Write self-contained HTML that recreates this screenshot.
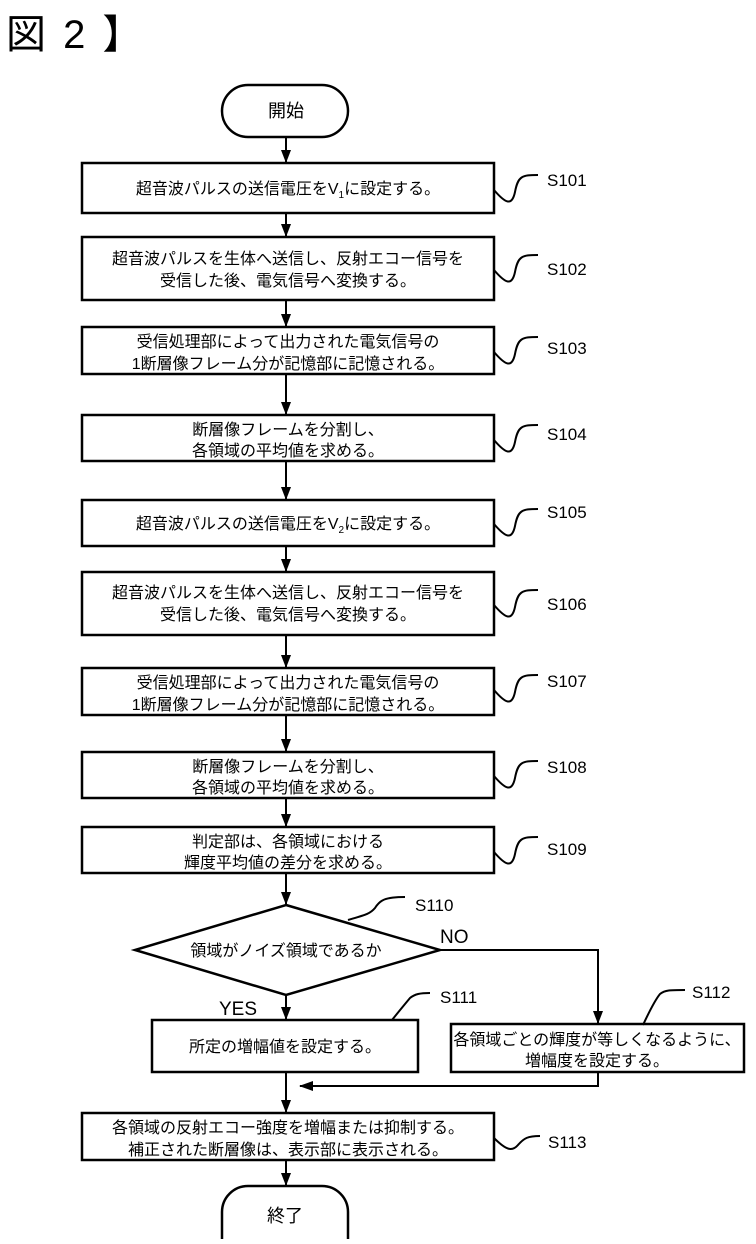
<!DOCTYPE html>
<html><head><meta charset="utf-8"><style>
body{margin:0;background:#fff}
svg text{font-family:"Liberation Sans","Noto Sans CJK JP",sans-serif;fill:#000}
</style></head><body>
<svg width="756" height="1239" viewBox="0 0 756 1239" xmlns="http://www.w3.org/2000/svg">
<defs><marker id="a" markerWidth="13" markerHeight="10" refX="12" refY="5" orient="auto" markerUnits="userSpaceOnUse"><path d="M0,0 L13,5 L0,10 Z" fill="#000"/></marker>
<marker id="l" markerWidth="14" markerHeight="10" refX="13" refY="5" orient="auto" markerUnits="userSpaceOnUse"><path d="M0,0 L14,5 L0,10 Z" fill="#000"/></marker></defs>
<text x="6" y="48" font-size="40" letter-spacing="3">図 2 】</text>
<g fill="none" stroke="#000" stroke-width="2.5">
<rect x="222" y="85" width="126" height="52" rx="26"/>
<rect x="82" y="163" width="412" height="50"/>
<rect x="82" y="237" width="412" height="63"/>
<rect x="82" y="327" width="412" height="47"/>
<rect x="82" y="415" width="412" height="46"/>
<rect x="82" y="500" width="412" height="46"/>
<rect x="82" y="572" width="412" height="63"/>
<rect x="82" y="668" width="412" height="47"/>
<rect x="82" y="752" width="412" height="46"/>
<rect x="82" y="827" width="412" height="46"/>
<path d="M286,905 L440,950 L286,995 L135,950 Z"/>
<rect x="152" y="1020" width="266" height="52"/>
<rect x="451" y="1024" width="293" height="48"/>
<rect x="82" y="1113" width="412" height="47"/>
<path d="M222,1239 L222,1212 A26,26 0 0 1 248,1186 L322,1186 A26,26 0 0 1 348,1212 L348,1239"/>
</g>
<g stroke="#000" stroke-width="2" fill="none">
<line x1="286" y1="137" x2="286" y2="162" marker-end="url(#a)"/>
<line x1="286" y1="213" x2="286" y2="236" marker-end="url(#a)"/>
<line x1="286" y1="300" x2="286" y2="326" marker-end="url(#a)"/>
<line x1="286" y1="374" x2="286" y2="414" marker-end="url(#a)"/>
<line x1="286" y1="461" x2="286" y2="499" marker-end="url(#a)"/>
<line x1="286" y1="546" x2="286" y2="571" marker-end="url(#a)"/>
<line x1="286" y1="635" x2="286" y2="667" marker-end="url(#a)"/>
<line x1="286" y1="715" x2="286" y2="751" marker-end="url(#a)"/>
<line x1="286" y1="798" x2="286" y2="826" marker-end="url(#a)"/>
<line x1="286" y1="873" x2="286" y2="904" marker-end="url(#a)"/>
<line x1="286" y1="995" x2="286" y2="1019" marker-end="url(#a)"/>
<line x1="286" y1="1072" x2="286" y2="1112" marker-end="url(#a)"/>
<line x1="286" y1="1160" x2="286" y2="1185" marker-end="url(#a)"/>
<polyline points="440,950 598,950 598,1023" marker-end="url(#a)"/>
<polyline points="598,1072 598,1086 300,1086" marker-end="url(#l)"/>
<path d="M494,190 C506,204 512,206 515,192 C518,176 522,175 538,175"/>
<path d="M494,270 C506,284 512,286 515,272 C518,256 522,255 538,255"/>
<path d="M494,352 C506,366 512,368 515,354 C518,338 522,337 538,337"/>
<path d="M494,440 C506,454 512,456 515,442 C518,426 522,425 538,425"/>
<path d="M494,524 C506,538 512,540 515,526 C518,510 522,509 538,509"/>
<path d="M494,605 C506,619 512,621 515,607 C518,591 522,590 538,590"/>
<path d="M494,690 C506,704 512,706 515,692 C518,676 522,675 538,675"/>
<path d="M494,776 C506,790 512,792 515,778 C518,762 522,761 538,761"/>
<path d="M494,852 C506,866 512,868 515,854 C518,838 522,837 538,837"/>
<path d="M348,920 C365,915 370,914 375,908 C380,900 385,897 405,897"/>
<path d="M392,1020 C400,1010 405,1004 410,998 C415,994 420,993 430,993"/>
<path d="M643,1025 C650,1010 655,1000 660,994 C665,990 670,990 685,990"/>
<path d="M494,1138 C506,1150 512,1152 518,1145 C524,1138 528,1136 540,1136"/>
</g>
<g font-size="16" text-anchor="middle">
<text x="286" y="117" font-size="18">開始</text>
<text x="288" y="194">超音波パルスの送信電圧をV<tspan font-size="10" dy="4">1</tspan><tspan dy="-4">に設定する。</tspan></text>
<text x="288" y="264">超音波パルスを生体へ送信し、反射エコー信号を</text>
<text x="288" y="286">受信した後、電気信号へ変換する。</text>
<text x="288" y="347">受信処理部によって出力された電気信号の</text>
<text x="288" y="369">1断層像フレーム分が記憶部に記憶される。</text>
<text x="288" y="435">断層像フレームを分割し、</text>
<text x="288" y="456">各領域の平均値を求める。</text>
<text x="288" y="529">超音波パルスの送信電圧をV<tspan font-size="10" dy="4">2</tspan><tspan dy="-4">に設定する。</tspan></text>
<text x="288" y="598">超音波パルスを生体へ送信し、反射エコー信号を</text>
<text x="288" y="620">受信した後、電気信号へ変換する。</text>
<text x="288" y="688">受信処理部によって出力された電気信号の</text>
<text x="288" y="710">1断層像フレーム分が記憶部に記憶される。</text>
<text x="288" y="772">断層像フレームを分割し、</text>
<text x="288" y="793">各領域の平均値を求める。</text>
<text x="288" y="847">判定部は、各領域における</text>
<text x="288" y="868">輝度平均値の差分を求める。</text>
<text x="286" y="956">領域がノイズ領域であるか</text>
<text x="285" y="1052">所定の増幅値を設定する。</text>
<text x="597" y="1045">各領域ごとの輝度が等しくなるように、</text>
<text x="597" y="1066">増幅度を設定する。</text>
<text x="288" y="1133">各領域の反射エコー強度を増幅または抑制する。</text>
<text x="288" y="1155">補正された断層像は、表示部に表示される。</text>
<text x="285" y="1222" font-size="18">終了</text>
</g>
<g font-size="17">
<text x="547" y="186">S101</text>
<text x="547" y="275">S102</text>
<text x="547" y="354">S103</text>
<text x="547" y="440">S104</text>
<text x="547" y="518">S105</text>
<text x="547" y="610">S106</text>
<text x="547" y="687">S107</text>
<text x="547" y="773">S108</text>
<text x="547" y="855">S109</text>
<text x="415" y="911">S110</text>
<text x="440" y="1003">S111</text>
<text x="692" y="998">S112</text>
<text x="548" y="1148">S113</text>
<text x="440" y="943" font-size="19">NO</text>
<text x="219" y="1015" font-size="19">YES</text>
</g>
</svg>
</body></html>
